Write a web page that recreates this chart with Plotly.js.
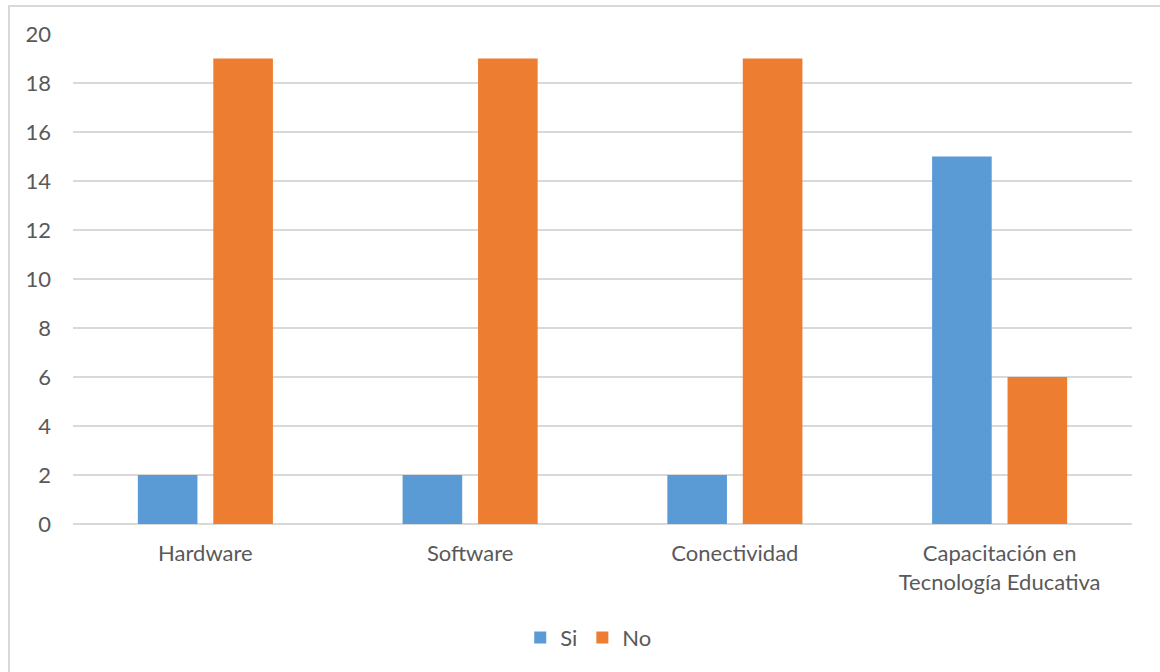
<!DOCTYPE html>
<html>
<head>
<meta charset="utf-8">
<script src="https://cdn.plot.ly/plotly-3.0.1.min.js"></script>
<style>
  html, body { margin: 0; padding: 0; background: #ffffff; }
  #wrap { position: relative; width: 1160px; height: 672px; overflow: hidden; }
  #chart { width: 1160px; height: 672px; }
  #frame {
    position: absolute; left: 8px; top: 5px; width: 1200px; height: 720px;
    border-left: 2px solid #D9D9D9; border-top: 2px solid #D9D9D9;
    pointer-events: none;
  }
</style>
</head>
<body>
<div id="wrap">
  <div id="chart"></div>
  <div id="frame"></div>
</div>
<script>
// Survey answers per resource category
const categories = ['Hardware', 'Software', 'Conectividad', 'Capacitación en<br>Tecnología Educativa'];
const siValues = [2, 2, 2, 15];
const noValues = [19, 19, 19, 6];
const yTicks = [0, 2, 4, 6, 8, 10, 12, 14, 16, 18, 20];

const textColor = '#595959';
const gridColor = '#D9D9D9';
const fontFamily = 'Lato, "Open Sans", sans-serif';

const traces = [
  { type: 'bar', name: 'Si', x: categories, y: siValues,
    marker: { color: '#5B9BD5' }, hoverinfo: 'x+y+name' },
  { type: 'bar', name: 'No', x: categories, y: noValues,
    marker: { color: '#ED7D31' }, hoverinfo: 'x+y+name' }
];

const layout = {
  width: 1160, height: 672,
  margin: { l: 73, r: 28, t: 34, b: 148 },
  paper_bgcolor: '#ffffff', plot_bgcolor: '#ffffff',
  font: { family: fontFamily, size: 22, color: textColor },
  barmode: 'group',
  bargap: 0.43,
  bargroupgap: 0.21,
  showlegend: true,
  legend: {
    orientation: 'h', x: 0.487, xanchor: 'center', y: -0.232, yanchor: 'middle',
    font: { family: fontFamily, size: 22, color: textColor },
    itemwidth: 30, traceorder: 'normal'
  },
  xaxis: {
    type: 'category', showgrid: false, zeroline: false,
    showline: false, ticks: '', ticklabelstandoff: 14,
    tickfont: { size: 22, color: textColor },
    fixedrange: true
  },
  yaxis: {
    range: [0, 20], tickvals: yTicks, ticktext: yTicks.map(String),
    showgrid: true, gridcolor: gridColor, gridwidth: 1.5,
    zeroline: true, zerolinecolor: gridColor, zerolinewidth: 1.5,
    showline: false, ticks: '', ticklabelstandoff: 21,
    tickfont: { size: 22, color: textColor }, fixedrange: true
  }
};

Plotly.newPlot('chart', traces, layout, { displayModeBar: false, staticPlot: true });
</script>
</body>
</html>
